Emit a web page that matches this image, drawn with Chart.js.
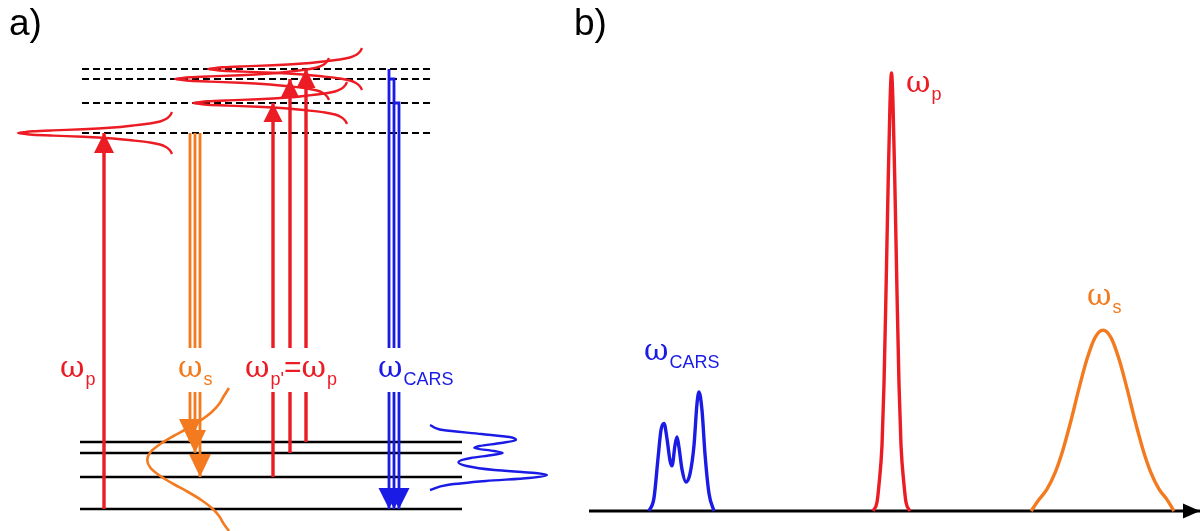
<!DOCTYPE html>
<html>
<head>
<meta charset="utf-8">
<script src="https://cdn.jsdelivr.net/npm/chart.js@4.4.1/dist/chart.umd.min.js"></script>
<style>
  html, body { margin: 0; padding: 0; background: #fff; }
  #page { position: relative; width: 1200px; height: 531px; overflow: hidden; }
  .panel { position: absolute; top: 0; height: 531px; }
  #panelA { left: 0; width: 580px; }
  #panelB { left: 580px; width: 620px; }
  .tag { position: absolute; top: 4px; font: 37px "Liberation Sans", Arial, sans-serif; line-height: 37px; color: #000; }
</style>
</head>
<body>
<div id="page">
  <div class="panel" id="panelA"><canvas id="chartA"></canvas></div>
  <div class="panel" id="panelB"><canvas id="chartB"></canvas></div>
  <div class="tag" style="left:9px">a)</div>
  <div class="tag" style="left:574px">b)</div>
</div>
<script>
// energy diagram, arbitrary energy units (ground state = 0)
const vibLevels = [0, 32, 56, 67];
const virtualLevels = [376, 406, 430, 440];
const pumpFrom = 0;
const pumpTo = 376;
const stokesFrom = 376;
const stokesTo = [67, 56, 32];
const probeFrom = [32, 56, 67];
const probeTo = [406, 430, 440];
const carsFrom = [440, 430, 406];
const carsTo = 0;

// short pulse envelope: time offset vs relative amplitude
const pulseOffset = [-21, -17.5, -14, -11.5, -9.5, -7.5, -5.5, -3.7, -2.6, -1.7, -0.8, 0, 0.8, 1.7, 2.6, 3.7, 5.5, 7.5, 9.5, 11.5, 14, 17.5, 21];
const pulseAmp = [0, 0.013, 0.039, 0.078, 0.143, 0.253, 0.383, 0.578, 0.773, 0.903, 0.961, 1, 0.961, 0.903, 0.773, 0.578, 0.383, 0.253, 0.143, 0.078, 0.039, 0.013, 0];

// spectra (arbitrary frequency units, intensity normalised to pump)
const carsFreq = [60, 65, 69, 72, 75, 78, 81, 83, 86, 88, 90, 93, 97, 101, 105, 108, 110, 113, 116, 120, 125];
const carsInt = [0, 0.03, 0.12, 0.185, 0.2, 0.165, 0.115, 0.103, 0.15, 0.169, 0.145, 0.095, 0.066, 0.085, 0.15, 0.245, 0.272, 0.23, 0.13, 0.04, 0];
const pumpFreq = [284, 288, 290, 293, 295, 297, 299, 301, 302.5, 304, 306, 308, 310, 312, 315, 317, 321];
const pumpInt = [0, 0.02, 0.06, 0.15, 0.29, 0.5, 0.73, 0.93, 1, 0.93, 0.73, 0.5, 0.29, 0.15, 0.06, 0.02, 0];
const stokesFreq = [442, 450, 458, 466, 474, 482, 490, 498, 506, 514, 522, 530, 538, 546, 554, 562, 570, 578, 585];
const stokesInt = [0, 0.026, 0.05, 0.087, 0.14, 0.2065, 0.28, 0.347, 0.396, 0.413, 0.396, 0.347, 0.28, 0.2065, 0.14, 0.087, 0.05, 0.026, 0];

// layout
const RED = '#ec1c24', ORANGE = '#f37a1f', BLUE = '#1b1be6', BLACK = '#000';
const levelX = [80, 462];
const virtualX = [82, 432];
const pumpX = 104;
const stokesX = [190, 195, 200];
const probeX = [273, 290, 306];
const carsX = [389, 394, 399];
const gap = [117, 161];           // band kept free for the labels
const pulseTip = [18, 193, 175, 208];
const pulseLen = 154;
const FONTS = {
  sym: '30px "DejaVu Serif", "Liberation Serif", serif',
  sub: '18px "Liberation Sans", Arial, sans-serif',
  op: '30px "Liberation Sans", Arial, sans-serif'
};

function line(data, color, width, extra) {
  return Object.assign({
    data, borderColor: color, backgroundColor: color, borderWidth: width,
    pointRadius: 0, fill: false, tension: 0
  }, extra || {});
}
const curve = (data, color, width, axis) =>
  line(data, color, width, { cubicInterpolationMode: 'monotone', indexAxis: axis });

// arrow heads at the last point of datasets that ask for one
const arrowHeads = {
  id: 'arrowHeads',
  afterDatasetsDraw(chart) {
    const ctx = chart.ctx;
    chart.data.datasets.forEach((ds, i) => {
      if (!ds.head) return;
      const pts = chart.getDatasetMeta(i).data.filter(p => !p.skip);
      const tip = pts[pts.length - 1], prev = pts[pts.length - 2];
      const dx = tip.x - prev.x, dy = tip.y - prev.y, d = Math.hypot(dx, dy);
      const ux = dx / d, uy = dy / d;
      const len = ds.head[0], w = ds.head[1] / 2;
      const bx = tip.x - ux * len, by = tip.y - uy * len;
      ctx.save();
      ctx.fillStyle = ds.borderColor;
      ctx.beginPath();
      ctx.moveTo(tip.x, tip.y);
      ctx.lineTo(bx - uy * w, by + ux * w);
      ctx.lineTo(bx + uy * w, by - ux * w);
      ctx.closePath();
      ctx.fill();
      ctx.restore();
    });
  }
};

function symbolLabels(items) {
  return {
    id: 'symbolLabels',
    afterDatasetsDraw(chart) {
      const ctx = chart.ctx, xs = chart.scales.x, ys = chart.scales.y;
      items.forEach(item => {
        let x = xs.getPixelForValue(item.x);
        const y = ys.getPixelForValue(item.y);
        ctx.save();
        ctx.fillStyle = item.color;
        ctx.textBaseline = 'alphabetic';
        item.parts.forEach(([text, kind]) => {
          ctx.font = FONTS[kind];
          ctx.fillText(text, x, y + (kind === 'sub' ? 8 : 0));
          x += ctx.measureText(text).width + (kind === 'sym' ? 1 : 0);
        });
        ctx.restore();
      });
    }
  };
}

function baseOptions(xMin, xMax, yMin, yMax) {
  return {
    responsive: true,
    maintainAspectRatio: false,
    animation: false,
    events: [],
    layout: { padding: 0 },
    plugins: { legend: { display: false }, tooltip: { enabled: false } },
    scales: {
      x: { type: 'linear', display: false, min: xMin, max: xMax },
      y: { type: 'linear', display: false, min: yMin, max: yMax }
    }
  };
}

// ---------- panel a ----------
const dsA = [];
vibLevels.forEach(e => dsA.push(line([{ x: levelX[0], y: e }, { x: levelX[1], y: e }], BLACK, 2.5)));
virtualLevels.forEach(e => dsA.push(line([{ x: virtualX[0], y: e }, { x: virtualX[1], y: e }], BLACK, 2, { borderDash: [7, 4] })));

// stokes pulse drawn along the energy axis, from its spectrum
dsA.push(curve(stokesFreq.map((f, i) => ({ x: 229 - stokesInt[i] * 198, y: 563 - f })).reverse(), ORANGE, 2.6, 'y'));
// CARS spectrum turned sideways next to the levels
dsA.push(curve(carsFreq.map((f, i) => ({ x: 430 + carsInt[i] * 430, y: 144 - f })).reverse(), BLUE, 2.4, 'y'));
// short pump / probe pulses on the virtual levels
virtualLevels.forEach((e, k) => {
  dsA.push(curve(pulseOffset.map((o, i) => ({ x: pulseTip[k] + pulseLen * (1 - pulseAmp[i]), y: e + o })), RED, 2.4, 'y'));
});

// pump arrow
dsA.push(line([{ x: pumpX, y: pumpFrom }, { x: pumpX, y: pumpTo }], RED, 3.4, { head: [20, 20] }));
// probe arrows
probeFrom.forEach((e, k) => dsA.push(line([
  { x: probeX[k], y: e }, { x: probeX[k], y: gap[0] }, { x: probeX[k], y: null },
  { x: probeX[k], y: gap[1] }, { x: probeX[k], y: probeTo[k] }
], RED, 3.4, { head: [19, 19] })));
// stokes arrows
stokesTo.forEach((e, k) => dsA.push(line([
  { x: stokesX[k], y: stokesFrom }, { x: stokesX[k], y: gap[1] }, { x: stokesX[k], y: null },
  { x: stokesX[k], y: gap[0] }, { x: stokesX[k], y: e }
], ORANGE, 2.8, { head: [23, 22] })));
// CARS arrows
carsFrom.forEach((e, k) => {
  const start = k === 0 ? [{ x: carsX[0], y: e }] : [{ x: carsX[k - 1], y: e }, { x: carsX[k], y: e }];
  dsA.push(line(start.concat([
    { x: carsX[k], y: gap[1] }, { x: carsX[k], y: null },
    { x: carsX[k], y: gap[0] }, { x: carsX[k], y: carsTo }
  ]), BLUE, 2.8, { head: [21, 21] }));
});

const labelsA = [
  { x: 60, y: 132, color: RED, parts: [['ω', 'sym'], ['p', 'sub']] },
  { x: 178, y: 132, color: ORANGE, parts: [['ω', 'sym'], ['s', 'sub']] },
  { x: 245, y: 132, color: RED, parts: [['ω', 'sym'], ["p'", 'sub'], ['=', 'op'], ['ω', 'sym'], ['p', 'sub']] },
  { x: 378, y: 132, color: BLUE, parts: [['ω', 'sym'], ['CARS', 'sub']] }
];

new Chart(document.getElementById('chartA'), {
  type: 'line',
  data: { datasets: dsA.reverse() },
  options: baseOptions(0, 580, -22, 509),
  plugins: [arrowHeads, symbolLabels(labelsA)]
});

// ---------- panel b ----------
const dsB = [
  line([{ x: 0, y: 0 }, { x: 611, y: 0 }], BLACK, 3, { head: [17, 15] }),
  curve(carsFreq.map((f, i) => ({ x: f, y: carsInt[i] })), BLUE, 3.4, 'x'),
  curve(pumpFreq.map((f, i) => ({ x: f, y: pumpInt[i] })), RED, 3.4, 'x'),
  curve(stokesFreq.map((f, i) => ({ x: f, y: stokesInt[i] })), ORANGE, 3.4, 'x')
];

const labelsB = [
  { x: 317, y: 0.957, color: RED, parts: [['ω', 'sym'], ['p', 'sub']] },
  { x: 498, y: 0.47, color: ORANGE, parts: [['ω', 'sym'], ['s', 'sub']] },
  { x: 55, y: 0.345, color: BLUE, parts: [['ω', 'sym'], ['CARS', 'sub']] }
];

new Chart(document.getElementById('chartB'), {
  type: 'line',
  data: { datasets: dsB.reverse() },
  options: baseOptions(-9, 611, -20 / 438, 511 / 438),
  plugins: [arrowHeads, symbolLabels(labelsB)]
});
</script>
</body>
</html>
